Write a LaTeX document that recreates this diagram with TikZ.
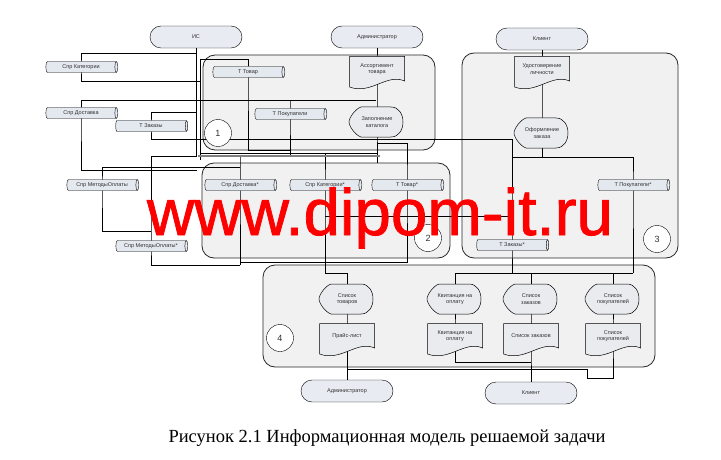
\documentclass[tikz,border=0pt]{standalone}
\usepackage{fontspec}
\setmainfont{Liberation Serif}
\setsansfont{Liberation Sans}
\newfontfamily\wmfont{Liberation Sans}[FakeBold=1.2]
\usetikzlibrary{shapes.geometric,shapes.misc}
\definecolor{termfill}{HTML}{E8EBF1}
\definecolor{storefill}{HTML}{E4E8EF}
\definecolor{shpfill}{HTML}{E9EBEF}
\definecolor{grpfill}{HTML}{F1F1F1}
\definecolor{txtcol}{HTML}{303030}
\pgfdeclarelayer{back}
\pgfdeclarelayer{wires}
\pgfsetlayers{back,wires,main}
\tikzset{every node/.style={text=txtcol},
    lbl/.style={align=center, inner sep=0pt, font=\sffamily\fontsize{5.5}{6.5}\selectfont},
    term/.style={rounded rectangle, draw, fill=termfill, minimum width=92pt,
        minimum height=22pt, lbl},
    store/.style={cylinder, shape border rotate=0, aspect=0.6, draw, fill=storefill,
        minimum width=11pt, minimum height=72pt, lbl},
    box/.style={rectangle, minimum width=55pt, minimum height=31pt, inner sep=0pt},
    shp/.style={draw, fill=shpfill, line width=0.5pt},
    grp/.style={draw=black!85, fill=grpfill, rounded corners=12pt, line width=0.8pt},
    wire/.style={line width=0.6pt},
    num/.style={circle, draw, fill=white, minimum size=27pt, inner sep=0pt,
        font=\sffamily\fontsize{9}{9}\selectfont},
    }
% document shape: name, x, y, text
\newcommand\docnode[4]{%
  \draw[shp] (#2-27.5,#3-15.5) -- (#2+27.5,#3-15.5) -- (#2+27.5,#3+9)
    .. controls (#2+10,#3+1) and (#2-6,#3+23) .. (#2-27.5,#3+15) -- cycle;
  \node[box, label={[lbl, yshift=3pt]center:#4}] (#1) at (#2,#3) {};}
% display shape: name, x, y, text
\newcommand\dispnode[4]{%
  \draw[shp] (#2-16,#3-15) -- (#2+14,#3-15)
    .. controls (#2+30,#3-15) and (#2+30,#3+15) .. (#2+14,#3+15) -- (#2-16,#3+15)
    .. controls (#2-22,#3+13) and (#2-28,#3+4) .. (#2-28,#3)
    .. controls (#2-28,#3-4) and (#2-22,#3-13) .. cycle;
  \node[box, label={[lbl]center:#4}] (#1) at (#2,#3) {};}

\begin{document}
\begin{tikzpicture}[x=1pt, y=-1pt]
\useasboundingbox (0,0) rectangle (721,460);
\begin{pgfonlayer}{back}
\draw[grp] (203,55) rectangle (435,150);
\draw[grp] (202,163) rectangle (450,258);
\draw[grp] (462,53) rectangle (678,258);
\draw[grp] (263,265) rectangle (655,367);
\end{pgfonlayer}
% terminals
\node[term] (is) at (196,37) {ИС};
\node[term] (admtop) at (377,37) {Администратор};
\node[term] (cltop) at (542,39) {Клиент};
\node[term] (admbot) at (347,391) {Администратор};
\node[term] (clbot) at (531,393) {Клиент};
% stores
\node[store] (skat) at (81,67) {Спр Категории};
\node[store] (sdost) at (81,113) {Спр Доставка};
\node[store] (tzak) at (151,126) {Т Заказы};
\node[store] (ttov) at (248,72) {Т Товар};
\node[store] (tpok) at (290,114) {Т Покупатели};
\node[store] (smet) at (102,185) {Спр МетодыОплаты};
\node[store] (smet2) at (151,246) {Спр МетодыОплаты*};
\node[store] (sdost2) at (240,185) {Спр Доставка*};
\node[store] (skat2) at (325,185) {Спр Категории*};
\node[store] (ttov2) at (407,185) {Т Товар*};
\node[store] (tpok2) at (633,185) {Т Покупатели*};
\node[store] (tzak2) at (512,245) {Т Заказы*};
% documents and displays
\docnode{assort}{377}{72}{Ассортимент\\товара}
\docnode{udost}{542}{72}{Удостоверение\\личности}
\docnode{price}{347}{339}{Прайс-лист}
\docnode{kvit2}{455}{339}{Квитанция на\\оплату}
\docnode{spzak2}{531}{339}{Список заказов}
\docnode{sppok2}{613}{339}{Список\\покупателей}
\dispnode{zapoln}{377}{122}{Заполнение\\каталога}
\dispnode{oform}{542}{133}{Оформление\\заказа}
\dispnode{sptov}{347}{299}{Список\\товаров}
\dispnode{kvit}{455}{299}{Квитанция на\\оплату}
\dispnode{spzak}{531}{299}{Список\\заказов}
\dispnode{sppok}{613}{299}{Список\\покупателей}
% numbers
\node[num] (n1) at (218,133) {1};
\node[num] (n2) at (428,238) {2};
\node[num] (n3) at (657,239) {3};
\node[num] (n4) at (280,338) {4};
\begin{pgfonlayer}{wires}
\draw[wire] (is.center) -- (196,156) -| (smet2.center) |- (240,265);
\draw[wire] (196,53) -| (skat.center) |- (200,81);
\draw[wire] (376,100) -| (sdost.center) |- (197,170);
\draw[wire] (196,112) -| (tzak.center) |- (512,139) -- (tzak2.center) -- (512,273);
\draw[wire] (200,59) -| (ttov.center) |- (290,150);
\draw[wire] (200,59) -- (200,160);
\draw[wire] (290,100) -- (tpok.center) -- (290,157);
\draw[wire] (admtop.center) -- (assort.center) -- (zapoln.center) -- (377,163);
\draw[wire] (377,143) -| (ttov2.center) |- (240,262);
\draw[wire] (240,156) -- (sdost2.center) -- (240,265);
\draw[wire] (200,153) -| (skat2.center) |- (347,273) -- (sptov.center);
\draw[wire] (200,153) -- (377,153);
\draw[line width=1.5pt, gray] (198,156) -- (380,156);
\draw[wire] (240,167) -| (smet.center) |- (151,231);
\draw[wire] (325,216) -- (512,216);
\draw[wire] (cltop.center) -- (udost.center) -- (oform.center) -- (542,157);
\draw[wire] (512,157) -| (tpok2.center) -- (633,273);
\draw[wire] (kvit.center) |- (633,273);
\draw[wire] (spzak.center) -- (531,273);
\draw[wire] (sppok.center) -- (613,273);
\draw[wire] (sptov.center) -- (price.center) -- (admbot.center);
\draw[wire] (kvit.center) -- (kvit2.center) |- (531,362);
\draw[wire] (spzak.center) -- (spzak2.center) -- (clbot.center);
\draw[wire] (sppok.center) -- (sppok2.center) |- (587,378) |- (531,369);
\draw[wire] (price.center) |- (531,369);
\end{pgfonlayer}
% watermark and caption
\node[text=red, font=\wmfont\fontsize{65.5}{66}\selectfont, anchor=base, inner sep=0pt] (wm) at (380,235) {www.dipom-it.ru};
\node[text=black, font=\fontsize{18.5}{20}\selectfont, anchor=base, inner sep=0pt] (cap) at (387,442) {Рисунок 2.1 Информационная модель решаемой задачи};
\end{tikzpicture}
\end{document}
